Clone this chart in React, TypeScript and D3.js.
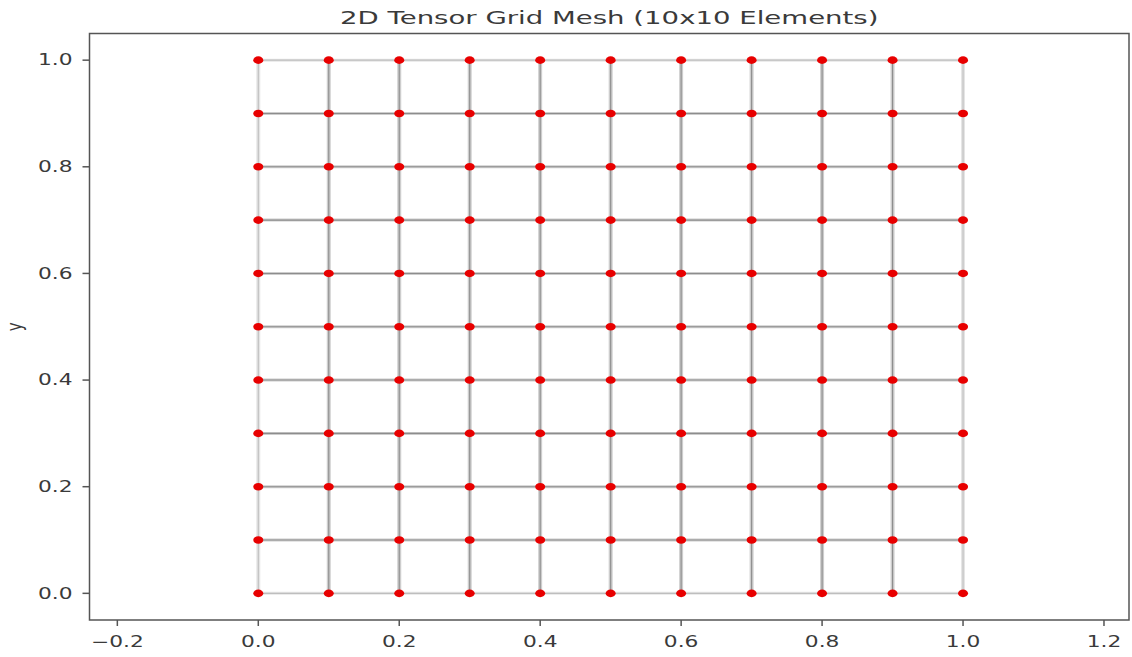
import React from "react";
import * as d3 from "d3";

// node coordinates of the 10x10 tensor grid
const xNodes = [0.0, 0.1, 0.2, 0.3, 0.4, 0.5, 0.6, 0.7, 0.8, 0.9, 1.0];
const yNodes = [0.0, 0.1, 0.2, 0.3, 0.4, 0.5, 0.6, 0.7, 0.8, 0.9, 1.0];
const xTicks = [-0.2, 0.0, 0.2, 0.4, 0.6, 0.8, 1.0, 1.2];
const yTicks = [0.0, 0.2, 0.4, 0.6, 0.8, 1.0];
const title = "2D Tensor Grid Mesh (10x10 Elements)";

const W = 1132;
const H = 657;
const plot = { left: 89.5, right: 1129, top: 33.5, bottom: 620 };
const SX = 1.45; // the picture is stretched sideways
const font = "DejaVu Sans, sans-serif";

const fmt = (v: number) => {
  const s = v.toFixed(1);
  return v < 0 ? "\u2212" + s.slice(1) : s;
};

export default function App() {
  const x = d3.scaleLinear().domain([-0.2395, 1.2355]).range([plot.left, plot.right]);
  const y = d3.scaleLinear().domain([-0.05, 1.05]).range([plot.bottom, plot.top]);

  // each element draws its own four edges, so shared edges come out darker
  const edges: { x1: number; y1: number; x2: number; y2: number; key: string }[] = [];
  for (let i = 0; i < xNodes.length - 1; i++) {
    for (let j = 0; j < yNodes.length - 1; j++) {
      const c = [
        [xNodes[i], yNodes[j]],
        [xNodes[i + 1], yNodes[j]],
        [xNodes[i + 1], yNodes[j + 1]],
        [xNodes[i], yNodes[j + 1]],
      ];
      for (let k = 0; k < 4; k++) {
        const a = c[k];
        const b = c[(k + 1) % 4];
        edges.push({ x1: x(a[0]), y1: y(a[1]), x2: x(b[0]), y2: y(b[1]), key: `${i}-${j}-${k}` });
      }
    }
  }

  const nodes: { cx: number; cy: number; key: string }[] = [];
  xNodes.forEach((xv, i) =>
    yNodes.forEach((yv, j) => nodes.push({ cx: x(xv), cy: y(yv), key: `${i}-${j}` }))
  );

  return (
    <svg width={W} height={H} style={{ position: "absolute", left: 0, top: 0 }}>
      <rect width={W} height={H} fill="white" />
      {edges.map((e) => (
        <g key={e.key}>
          <line
            x1={e.x1}
            y1={e.y1}
            x2={e.x2}
            y2={e.y2}
            stroke="black"
            strokeOpacity={0.1}
            strokeWidth={e.x1 === e.x2 ? 4 : 3}
          />
          <line
            x1={e.x1}
            y1={e.y1}
            x2={e.x2}
            y2={e.y2}
            stroke="black"
            strokeOpacity={0.17}
            strokeWidth={1.1}
          />
        </g>
      ))}
      {nodes.map((n) => (
        <ellipse key={n.key} cx={n.cx} cy={n.cy} rx={5} ry={3.8} fill="#e80000" />
      ))}

      <rect
        x={plot.left}
        y={plot.top}
        width={plot.right - plot.left}
        height={plot.bottom - plot.top}
        fill="none"
        stroke="#555"
        strokeWidth={1.5}
      />

      {xTicks.map((t) => (
        <g key={"x" + t} transform={`translate(${x(t)},0)`}>
          <line y1={plot.bottom} y2={plot.bottom + 6} stroke="#555" strokeWidth={1.5} />
          <text
            transform={`translate(0,${plot.bottom + 27}) scale(${SX},1)`}
            textAnchor="middle"
            fontFamily={font}
            fontSize={15}
            fill="#3a3a3a"
          >
            {fmt(t)}
          </text>
        </g>
      ))}

      {yTicks.map((t) => (
        <g key={"y" + t} transform={`translate(0,${y(t)})`}>
          <line x1={plot.left - 7} x2={plot.left} stroke="#555" strokeWidth={1.5} />
          <text
            transform={`translate(${plot.left - 17},0) scale(${SX},1)`}
            textAnchor="end"
            dominantBaseline="central"
            fontFamily={font}
            fontSize={15}
            fill="#3a3a3a"
          >
            {fmt(t)}
          </text>
        </g>
      ))}

      <text
        transform={`translate(${(plot.left + plot.right) / 2},24) scale(1.49,1)`}
        textAnchor="middle"
        fontFamily={font}
        fontSize={18.5}
        fill="#3a3a3a"
      >
        {title}
      </text>

      <text
        transform={`translate(22,${(plot.top + plot.bottom) / 2}) rotate(-90) scale(1,${SX})`}
        textAnchor="middle"
        fontFamily={font}
        fontSize={15}
        fill="#3a3a3a"
      >
        y
      </text>
    </svg>
  );
}
